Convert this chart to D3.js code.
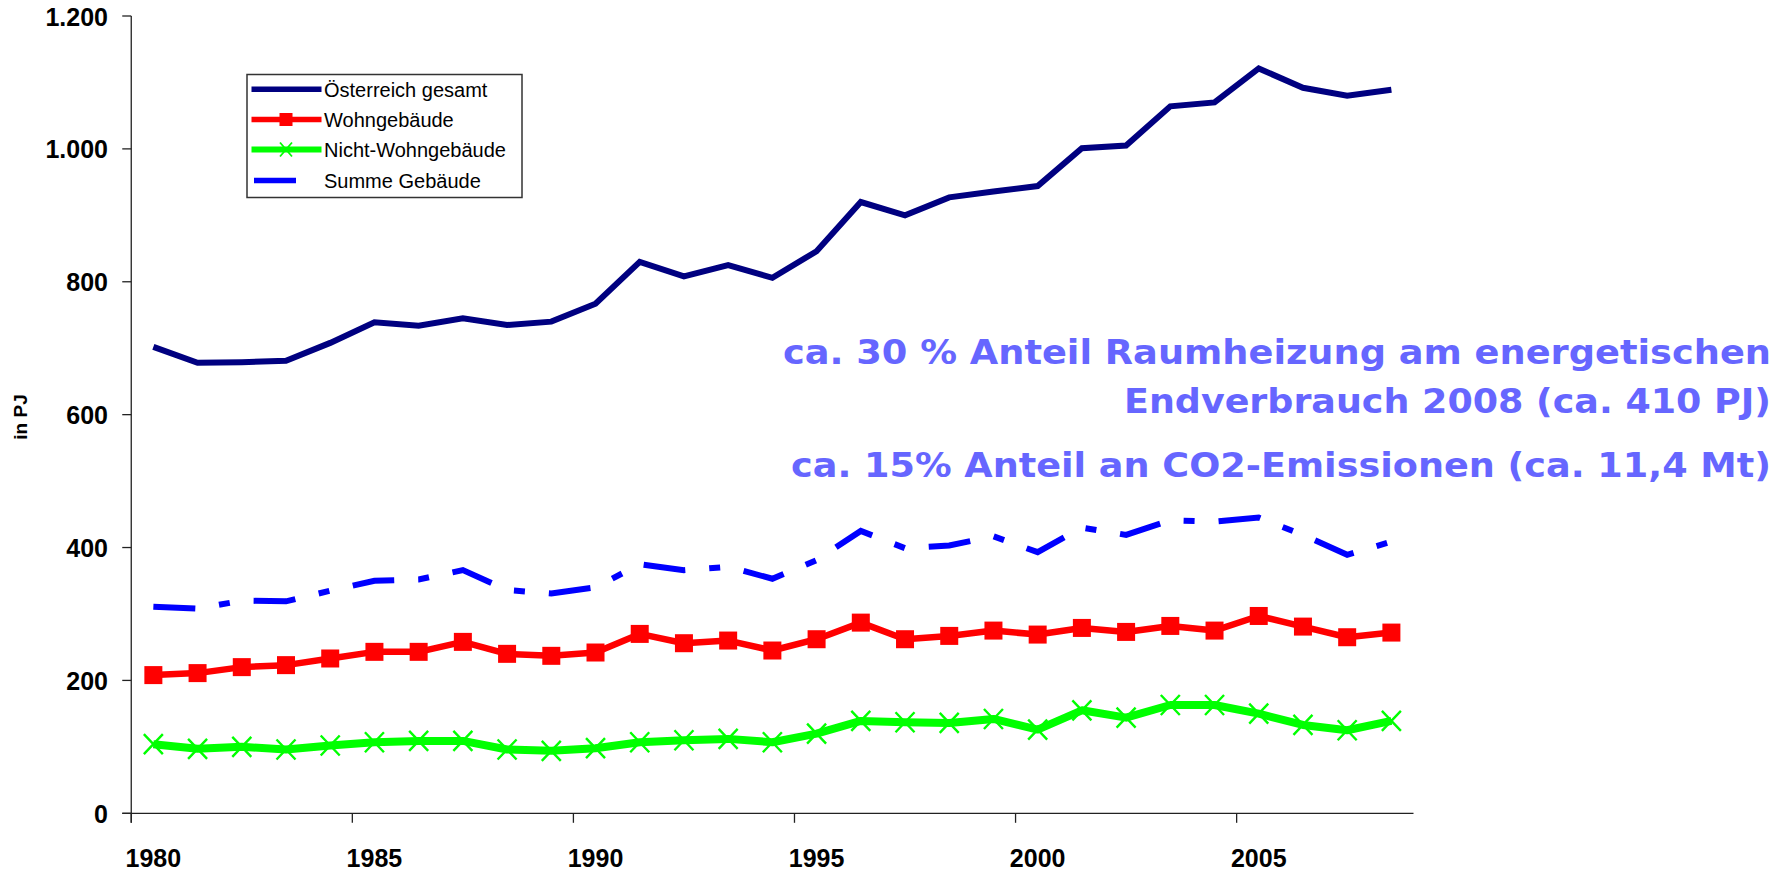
<!DOCTYPE html>
<html>
<head>
<meta charset="utf-8">
<script src="https://cdn.jsdelivr.net/npm/d3@7"></script>
<style>
  html, body { margin: 0; padding: 0; background: #fff; }
  svg { display: block; }
</style>
</head>
<body>
<svg id="chart" width="1790" height="872"></svg>
<script>
// ---------- DATA ----------
const years = [1980,1981,1982,1983,1984,1985,1986,1987,1988,1989,1990,1991,1992,1993,1994,
               1995,1996,1997,1998,1999,2000,2001,2002,2003,2004,2005,2006,2007,2008];
const oesterreichGesamt = [702,678,679,681,708,739,734,745,735,740,767,830,808,825,806,
                           846,920,900,927,936,944,1001,1005,1064,1070,1121,1092,1080,1089];
const wohngebaeude = [208,211,220,223,233,243,243,258,240,237,242,270,256,260,245,
                      262,287,262,267,275,269,279,273,282,275,297,281,265,272];
const nichtWohngebaeude = [104,97,100,96,102,107,109,109,96,94,98,107,110,112,107,
                           120,139,137,136,142,126,155,144,163,163,150,133,125,139];
const summeGebaeude = [311,308,320,319,335,350,352,366,336,331,340,375,366,371,353,
                       381,425,399,403,417,393,430,419,441,439,445,419,389,409];
const yTicks = [0,200,400,600,800,1000,1200];
const xTickYears = [1980,1985,1990,1995,2000,2005];
const legendLabels = ["Österreich gesamt","Wohngebäude","Nicht-Wohngebäude","Summe Gebäude"];
const annotationLines = ["ca. 30 % Anteil Raumheizung am energetischen",
                         "Endverbrauch 2008 (ca. 410 PJ)",
                         "ca. 15% Anteil an CO2-Emissionen (ca. 11,4 Mt)"];
const yAxisTitle = "in PJ";

// ---------- SETUP ----------
const svg = d3.select("#chart");
const plotLeft = 131.25, plotRight = 1413.5, plotTop = 16, plotBottom = 813.3;

const x = d3.scaleBand().domain(years).range([plotLeft, plotRight]).padding(0);
const y = d3.scaleLinear().domain([0, 1200]).range([plotBottom, plotTop]);
const cx = yr => x(yr) + x.bandwidth() / 2;

const deLocale = d3.formatLocale({decimal: ",", thousands: ".", grouping: [3], currency: ["", " €"]});
const fmt = deLocale.format(",d");

const axisColor = "#222";

// ---------- Y AXIS ----------
const yAxis = svg.append("g").attr("class", "y-axis");
yAxis.append("line")
  .attr("x1", plotLeft).attr("x2", plotLeft).attr("y1", y(1200)).attr("y2", plotBottom + 9.5)
  .attr("stroke", axisColor).attr("stroke-width", 1.3);
yAxis.selectAll("line.tick").data(yTicks).enter().append("line")
  .attr("class", "tick")
  .attr("x1", plotLeft - 9).attr("x2", plotLeft).attr("y1", d => y(d)).attr("y2", d => y(d))
  .attr("stroke", axisColor).attr("stroke-width", 1.3);
yAxis.selectAll("text").data(yTicks).enter().append("text")
  .attr("x", 108).attr("y", d => y(d) + 9.5)
  .attr("text-anchor", "end")
  .attr("font-family", "Liberation Sans, Arial, sans-serif")
  .attr("font-weight", "bold").attr("font-size", 25)
  .attr("fill", "#000")
  .text(d => fmt(d));

svg.append("text")
  .attr("transform", "translate(27,417) rotate(-90)")
  .attr("text-anchor", "middle")
  .attr("font-family", "Liberation Sans, Arial, sans-serif")
  .attr("font-weight", "bold").attr("font-size", 19)
  .attr("fill", "#000")
  .text(yAxisTitle);

// ---------- X AXIS ----------
const xAxis = svg.append("g").attr("class", "x-axis");
xAxis.append("line")
  .attr("x1", plotLeft - 9).attr("x2", plotRight).attr("y1", plotBottom).attr("y2", plotBottom)
  .attr("stroke", axisColor).attr("stroke-width", 1.3);
xAxis.selectAll("line.tick").data(xTickYears).enter().append("line")
  .attr("class", "tick")
  .attr("x1", d => x(d)).attr("x2", d => x(d)).attr("y1", plotBottom).attr("y2", plotBottom + 9.5)
  .attr("stroke", axisColor).attr("stroke-width", 1.3);
xAxis.selectAll("text").data(xTickYears).enter().append("text")
  .attr("x", d => cx(d)).attr("y", 867)
  .attr("text-anchor", "middle")
  .attr("font-family", "Liberation Sans, Arial, sans-serif")
  .attr("font-weight", "bold").attr("font-size", 25)
  .attr("fill", "#000")
  .text(d => d);

// ---------- LINES ----------
const line = d3.line().x(d => cx(d.year)).y(d => y(d.value));
const zip = arr => years.map((yr, i) => ({year: yr, value: arr[i]}));

const navy = "#000080", red = "#ff0000", green = "#00ff00", blue = "#0000ff";

// Summe Gebäude (dashed)
svg.append("path")
  .datum(zip(summeGebaeude))
  .attr("d", line)
  .attr("fill", "none").attr("stroke", blue).attr("stroke-width", 6)
  .attr("stroke-dasharray", "42,24,11,24")
  .attr("stroke-linejoin", "miter");

// Nicht-Wohngebäude
svg.append("path")
  .datum(zip(nichtWohngebaeude))
  .attr("d", line)
  .attr("fill", "none").attr("stroke", green).attr("stroke-width", 8)
  .attr("stroke-linejoin", "round");
svg.append("g").selectAll("path").data(zip(nichtWohngebaeude)).enter().append("path")
  .attr("transform", d => `translate(${cx(d.year)},${y(d.value)})`)
  .attr("d", "M-9.5,-10 L9.5,10 M-9.5,10 L9.5,-10")
  .attr("stroke", green).attr("stroke-width", 2.4).attr("fill", "none");

// Wohngebäude
svg.append("path")
  .datum(zip(wohngebaeude))
  .attr("d", line)
  .attr("fill", "none").attr("stroke", red).attr("stroke-width", 6.5)
  .attr("stroke-linejoin", "round");
svg.append("g").selectAll("rect").data(zip(wohngebaeude)).enter().append("rect")
  .attr("x", d => cx(d.year) - 9).attr("y", d => y(d.value) - 9)
  .attr("width", 18).attr("height", 18)
  .attr("fill", red);

// Österreich gesamt
svg.append("path")
  .datum(zip(oesterreichGesamt))
  .attr("d", line)
  .attr("fill", "none").attr("stroke", navy).attr("stroke-width", 6)
  .attr("stroke-linejoin", "miter");

// ---------- LEGEND ----------
const lg = svg.append("g").attr("class", "legend");
lg.append("rect")
  .attr("x", 247).attr("y", 74.5).attr("width", 275).attr("height", 123)
  .attr("fill", "#fff").attr("stroke", "#333").attr("stroke-width", 1.5);
const rowY = [89.3, 119.5, 149.5, 180.5];
lg.append("line").attr("x1", 251.5).attr("x2", 321.5).attr("y1", rowY[0]).attr("y2", rowY[0])
  .attr("stroke", navy).attr("stroke-width", 5.5);
lg.append("line").attr("x1", 251.5).attr("x2", 321.5).attr("y1", rowY[1]).attr("y2", rowY[1])
  .attr("stroke", red).attr("stroke-width", 5.5);
lg.append("rect").attr("x", 286 - 6.5).attr("y", rowY[1] - 6.5).attr("width", 13).attr("height", 13)
  .attr("fill", red);
lg.append("line").attr("x1", 251.5).attr("x2", 321.5).attr("y1", rowY[2]).attr("y2", rowY[2])
  .attr("stroke", green).attr("stroke-width", 6);
lg.append("path").attr("transform", `translate(286,${rowY[2]})`)
  .attr("d", "M-6,-7 L6,7 M-6,7 L6,-7")
  .attr("stroke", green).attr("stroke-width", 1.8).attr("fill", "none");
lg.append("line").attr("x1", 254).attr("x2", 296).attr("y1", rowY[3]).attr("y2", rowY[3])
  .attr("stroke", blue).attr("stroke-width", 5.5);
lg.selectAll("text").data(legendLabels).enter().append("text")
  .attr("x", 324).attr("y", (d, i) => rowY[i] + 7.5)
  .attr("font-family", "Liberation Sans, Arial, sans-serif")
  .attr("font-size", 20).attr("fill", "#000")
  .text(d => d);

// ---------- ANNOTATION ----------
const annY = [363.5, 413, 477];
const annW = [988, 647, 980];
svg.append("g").selectAll("text").data(annotationLines).enter().append("text")
  .attr("x", 1771).attr("y", (d, i) => annY[i])
  .attr("text-anchor", "end")
  .attr("font-family", "DejaVu Sans Condensed, DejaVu Sans, sans-serif")
  .attr("font-stretch", "condensed")
  .attr("font-weight", "bold").attr("font-size", 33)
  .attr("fill", "#6666ff")
  .attr("textLength", (d, i) => annW[i])
  .attr("lengthAdjust", "spacingAndGlyphs")
  .text(d => d);
</script>
</body>
</html>
